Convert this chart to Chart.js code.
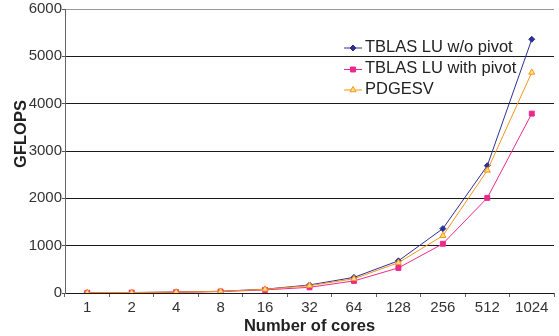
<!DOCTYPE html>
<html>
<head>
<meta charset="utf-8">
<script src="https://cdn.jsdelivr.net/npm/chart.js@4/dist/chart.umd.min.js"></script>
<style>
  html, body { margin: 0; padding: 0; background: #fff; }
  #wrap { width: 559px; height: 336px; position: relative; }
</style>
</head>
<body>
<div id="wrap"><canvas id="c" width="559" height="336"></canvas></div>
<script>
// Core counts on the x axis
const cores = ['1', '2', '4', '8', '16', '32', '64', '128', '256', '512', '1024'];

// Performance in GFLOPS per core count
const tblasNoPivot   = [5, 10, 20, 36, 80, 170, 330, 680, 1360, 2690, 5360];
const tblasWithPivot = [4, 8, 16, 30, 65, 120, 255, 530, 1040, 2010, 3790];
const pdgesv         = [5, 9, 18, 34, 78, 155, 300, 640, 1210, 2590, 4660];

const seriesNames = ['TBLAS LU w/o pivot', 'TBLAS LU with pivot', 'PDGESV'];
const yTicks = [0, 1000, 2000, 3000, 4000, 5000, 6000];

const FONT = '"Liberation Sans", Arial, sans-serif';

// Legend in the upper right of the plot plus the rotated y title
const overlay = {
  id: 'overlay',
  afterDraw(chart) {
    const ctx = chart.ctx;
    ctx.save();
    ctx.translate(21, 134);
    ctx.rotate(-Math.PI / 2);
    ctx.font = 'bold 16.5px ' + FONT;
    ctx.fillStyle = '#222';
    ctx.textAlign = 'center';
    ctx.textBaseline = 'middle';
    ctx.fillText('GFLOPS', 0, 0);
    ctx.restore();

    const rows = [47, 68.5, 89];
    chart.data.datasets.forEach((ds, i) => {
      const y = rows[i];
      ctx.save();
      ctx.strokeStyle = ds.borderColor;
      ctx.lineWidth = 1;
      ctx.beginPath();
      ctx.moveTo(344, y + 1);
      ctx.lineTo(362, y + 1);
      ctx.stroke();
      ctx.fillStyle = ds.pointBackgroundColor;
      ctx.strokeStyle = ds.pointBorderColor;
      Chart.helpers.drawPoint(ctx, { pointStyle: ds.pointStyle, radius: ds.pointRadius, borderWidth: 1 }, 353, y + 1);
      ctx.font = '16.5px ' + FONT;
      ctx.fillStyle = '#222';
      ctx.textAlign = 'left';
      ctx.textBaseline = 'middle';
      ctx.fillText(ds.label, 365, y);
      ctx.restore();
    });
  }
};

new Chart(document.getElementById('c'), {
  type: 'line',
  data: {
    labels: cores,
    datasets: [
      {
        label: seriesNames[0],
        data: tblasNoPivot,
        borderColor: '#2E3192',
        borderWidth: 1,
        pointStyle: 'rectRot',
        pointRadius: 3,
        pointBackgroundColor: '#2E3192',
        pointBorderColor: '#2E3192',
        order: 3
      },
      {
        label: seriesNames[1],
        data: tblasWithPivot,
        borderColor: '#EC2A8C',
        borderWidth: 1,
        pointStyle: 'rect',
        pointRadius: 3.5,
        pointBackgroundColor: '#EC2A8C',
        pointBorderColor: '#EC2A8C',
        order: 2
      },
      {
        label: seriesNames[2],
        data: pdgesv,
        borderColor: '#F7941D',
        borderWidth: 1,
        pointStyle: 'triangle',
        pointRadius: 3.5,
        pointBackgroundColor: '#FFE27A',
        pointBorderColor: '#F7941D',
        order: 1
      }
    ]
  },
  options: {
    responsive: false,
    animation: false,
    layout: { padding: { left: 0, right: 0, top: 3, bottom: 0 } },
    plugins: {
      legend: { display: false },
      tooltip: { enabled: false }
    },
    elements: { line: { tension: 0 } },
    scales: {
      x: {
        offset: true,
        grid: {
          offset: true,
          drawOnChartArea: false,
          drawTicks: true,
          tickLength: 4,
          color: '#666'
        },
        border: { display: false },
        ticks: {
          color: '#333',
          font: { family: FONT, size: 15 },
          padding: 2,
          maxRotation: 0,
          autoSkip: false
        },
        title: {
          display: true,
          text: 'Number of cores',
          color: '#222',
          font: { family: FONT, size: 16.5, weight: 'bold' },
          padding: { top: 0, bottom: 0 }
        },
        afterFit(scale) { scale.height = 43; }
      },
      y: {
        min: 0,
        max: 6000,
        afterBuildTicks(scale) { scale.ticks = yTicks.map(v => ({ value: v })); },
        grid: {
          color: ctx => (ctx.tick && ctx.tick.value === 6000) ? '#999' : '#1a1a1a',
          tickColor: '#555',
          tickLength: 3,
          lineWidth: 1
        },
        border: { display: true, color: '#666', width: 1 },
        ticks: {
          color: '#333',
          font: { family: FONT, size: 15 },
          padding: 0,
          callback: v => String(v)
        },
        afterFit(scale) { scale.width = 65; }
      }
    }
  },
  plugins: [overlay]
});
</script>
</body>
</html>
